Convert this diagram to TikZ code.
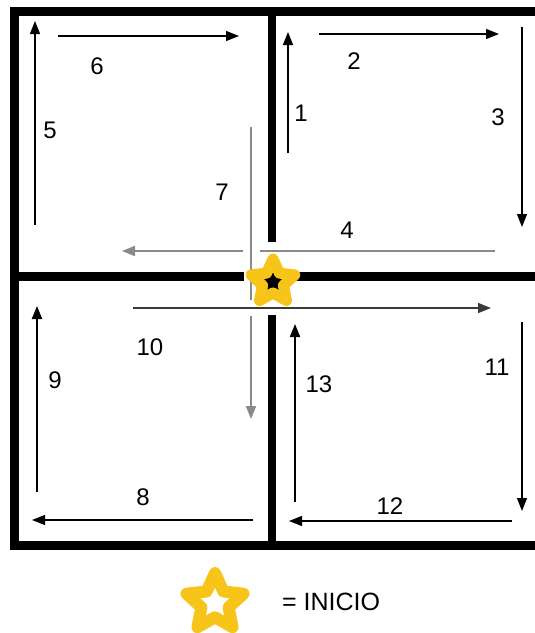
\documentclass[tikz,border=0pt]{standalone}
\usepackage{fontspec}
\setmainfont{Liberation Sans}
\usetikzlibrary{arrows.meta,shapes.geometric}
\definecolor{mzgold}{HTML}{F7C41A}
\definecolor{mzgrey}{HTML}{8A8A8A}
\definecolor{mzdark}{HTML}{3A3A3A}

\begin{document}
\begin{tikzpicture}[x=1pt, y=-1pt,
    font=\fontsize{24}{28}\selectfont,
    >={Triangle[length=13pt,width=10pt]},
    wall/.style={line width=8pt},
    route/.style={->,line width=1.3pt},
    ghost/.style={mzgrey,line width=2pt},
    inicio/.style={star,star points=5,star point ratio=2.1,
                   draw=mzgold,line join=round,inner sep=0pt}]
  \useasboundingbox (0,0) rectangle (535,633);

  % --- the walls of the four rooms
  \draw[wall,line width=9pt] (535,11) -- (14,11) -- (14,545) -- (535,545);
  \draw[wall,line width=9pt] (14,276) -- (244,276) (256,276) -- (535,276);
  \draw[wall] (272,11) -- (272,242) (272,315) -- (272,545);

  % --- top right room
  \draw[route] (288,153) -- (288,32);
  \draw[route] (319,34) -- (499,34);
  \draw[route] (522,27) -- (522,227);
  \node (n1) at (301,113) {1};
  \node (n2) at (354,61) {2};
  \node (n3) at (498,117) {3};

  % --- the way back, in grey
  \draw[ghost] (495,251) -- (260,251);
  \draw[ghost,->] (243,251) -- (122,251);
  \node (n4) at (347,230) {4};

  % --- top left room
  \draw[route] (35,225) -- (35,21);
  \draw[route] (58,36) -- (239,36);
  \node (n5) at (50,130) {5};
  \node (n6) at (97,66) {6};

  \draw[ghost] (251,127) -- (251,300);
  \draw[ghost,->] (251,316) -- (251,419);
  \node (n7) at (222,192) {7};

  % --- bottom left room
  \draw[route] (253,520) -- (32,520);
  \draw[route,line width=2pt] (37,492) -- (37,306);
  \node (n8) at (143,497) {8};
  \node (n9) at (55,380) {9};

  \draw[route,mzdark,line width=1.6pt] (133,308) -- (491,308);
  \node (n10) at (150,347) {10};

  % --- bottom right room
  \draw[route] (522,322) -- (522,511);
  \draw[route] (512,521) -- (289,521);
  \draw[route,line width=2pt] (295,502) -- (295,324);
  \node (n11) at (497,367) {11};
  \node (n12) at (390,506) {12};
  \node (n13) at (319,384) {13};

  % --- start and its key
  \node[inicio,fill=black,line width=11pt,minimum size=46pt] (start) at (273,282) {};
  \node[inicio,fill=white,line width=12pt,minimum size=60pt] (key) at (215,603) {};
  \node[anchor=west,inner sep=0pt] (keytext) at (282,602) {\fontsize{25}{28}\selectfont= INICIO};
\end{tikzpicture}
\end{document}
